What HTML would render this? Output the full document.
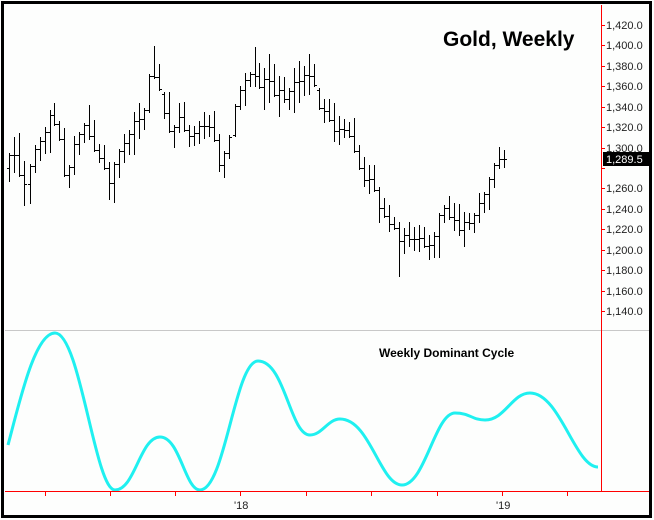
<!DOCTYPE html>
<html><head><meta charset="utf-8"><style>
html,body{margin:0;padding:0;background:#fff;}
svg{display:block;font-family:"Liberation Sans",Arial,sans-serif;}
</style></head><body>
<svg id="s" width="654" height="520" viewBox="0 0 654 520" xmlns="http://www.w3.org/2000/svg">
<rect x="0" y="0" width="654" height="520" fill="#fdfefd"/>
<rect x="5" y="330" width="645" height="1" fill="#c8c8c8"/>
<g id="bars" stroke="#000" stroke-width="1"></g>
<g id="ax" font-size="11" fill="#222"></g>
<path d="M8,445 C20,400 35,333 55,333 C80,333 95,490 115,490 C135,490 140,437 160,437 C180,437 185,490 200,490 C225,490 235,361 258,361 C285,361 290,435 310,435 C322,435 328,419 340,419 C370,419 380,485 402,485 C425,485 435,413 455,413 C470,413 472,420 485,420 C505,420 512,393 530,393 C560,393 575,467 598,467" fill="none" stroke="#1ff0f0" stroke-width="3"/>
<rect x="601" y="5" width="1" height="487" fill="#ff0000"/>
<rect x="5" y="491" width="645" height="1" fill="#ff0000"/>
<text x="443" y="46" font-size="21" font-weight="bold" fill="#000">Gold, Weekly</text>
<text x="379" y="357" font-size="12" font-weight="bold" fill="#000">Weekly Dominant Cycle</text>
<text x="234" y="509" font-size="11" fill="#222">'18</text>
<text x="496" y="509" font-size="11" fill="#222">'19</text>
<rect x="603" y="152" width="46" height="14" fill="#000"/>
<text x="606" y="163" font-size="11" fill="#fff">1,289.5</text>
<rect x="2.5" y="2.5" width="648" height="514" fill="none" stroke="#000" stroke-width="3"/>
</svg>
<script>
var d=[[9,153,182],[14,137,173],[19,133,177],[24,161,206],[30,164,204],[35,145,173],[40,137,161],[45,127,154],[50,110,153],[54,103,126],[59,121,141],[64,128,177],[69,165,188],[74,136,175],[79,132,155],[84,123,143],[89,105,140],[94,120,152],[99,144,163],[104,145,170],[109,162,200],[114,162,203],[119,149,178],[124,134,163],[129,130,155],[134,112,155],[139,103,139],[144,108,130],[149,74,113],[154,46,79],[159,64,91],[164,92,119],[169,92,133],[174,125,148],[179,103,133],[184,102,132],[189,125,147],[194,126,146],[199,121,144],[204,112,139],[209,115,137],[214,111,142],[219,134,172],[224,151,178],[229,135,159],[235,104,137],[240,86,110],[245,73,106],[250,72,87],[255,47,87],[259,63,89],[264,68,110],[269,54,103],[274,64,97],[279,76,117],[284,77,103],[289,88,110],[294,68,113],[299,61,103],[304,66,96],[309,54,95],[314,64,87],[319,88,110],[324,99,123],[329,99,122],[334,103,142],[339,116,145],[344,119,138],[349,122,138],[354,118,153],[359,145,170],[364,157,187],[369,165,194],[374,165,192],[379,187,223],[384,198,218],[389,205,232],[394,217,230],[399,222,277],[404,228,254],[409,222,247],[414,227,251],[419,225,252],[424,227,248],[429,235,260],[434,232,258],[439,213,258],[444,205,223],[449,196,220],[454,203,231],[459,204,236],[464,212,247],[469,213,230],[474,213,233],[479,193,223],[484,192,213],[489,177,210],[494,163,188],[499,147,169],[504,150,168]];
var g=document.getElementById("bars"),h="";
var prev=(d[0][1]+d[0][2])/2;
for(var i=0;i<d.length;i++){var b=d[i],x=b[0]+0.5,hi=b[1],lo=b[2];
var nm=i<d.length-1?(d[i+1][1]+d[i+1][2])/2:(hi+lo)/2;
var c=Math.round(Math.min(lo-2,Math.max(hi+2,nm)));
var o=Math.round(Math.min(lo-2,Math.max(hi+2,prev)));
h+='<line x1="'+x+'" y1="'+hi+'" x2="'+x+'" y2="'+lo+'"/><line x1="'+(x-2.5)+'" y1="'+(o+0.5)+'" x2="'+x+'" y2="'+(o+0.5)+'"/><line x1="'+x+'" y1="'+(c+0.5)+'" x2="'+(x+2.5)+'" y2="'+(c+0.5)+'"/>';
prev=c;}
g.innerHTML=h;
var a=document.getElementById("ax"),t="";
for(var p=1420;p>=1140;p-=20){var y=Math.round(25+(1420-p)*1.0214);
t+='<rect x="601" y="'+y+'" width="4" height="1" fill="#f00"/>';
if(p!=1280)t+='<text x="606" y="'+(y+4)+'">'+(p/1000|0)+','+String(p%1000).padStart(3,"0")+'.0</text>';}
[45,110,175,240,306,371,437,502,567].forEach(function(x){t+='<rect x="'+x+'" y="491" width="1" height="5" fill="#f00"/>';});
a.innerHTML=t;
</script>
</body></html>
